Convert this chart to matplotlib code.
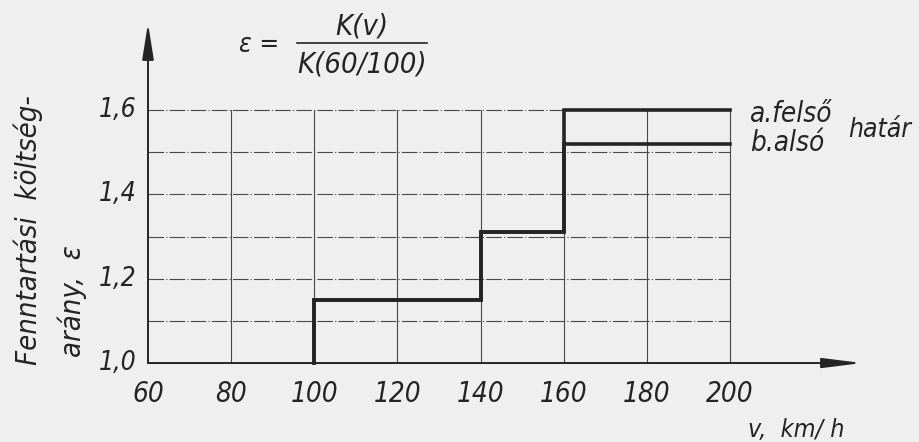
import matplotlib.pyplot as plt

# speed grid and the two step curves (upper "a" and lower "b" limit)
speeds = [60, 80, 100, 120, 140, 160, 180, 200]
step_x = [100, 100, 140, 160, 200]
eps_a = [1.0, 1.15, 1.31, 1.60, 1.60]
eps_b = [1.0, 1.15, 1.31, 1.52, 1.52]
y_ticks = [1.0, 1.2, 1.4, 1.6]
y_tick_labels = ['1,0', '1,2', '1,4', '1,6']
y_minor = [1.1, 1.3, 1.5]

INK = '#242424'
GRID = '#484848'
PAPER = '#efefef'
TXT = dict(style='italic', family=['DejaVu Sans'], stretch='condensed', color=INK)

fig = plt.figure(figsize=(9.2, 4.42), dpi=100, facecolor=PAPER)
ax = fig.add_axes([0, 0, 1, 1])
ax.set_facecolor(PAPER)
ax.set_xlim(24.4, 245.7)
ax.set_ylim(0.8127, 1.861)
ax.axis('off')

# grid: solid verticals, dash-dot horizontals
for v in speeds[1:]:
    ax.plot([v, v], [1.0, y_ticks[-1]], color=GRID, lw=0.8)
for e in y_ticks[1:] + y_minor:
    ax.plot([speeds[0], speeds[-1]], [e, e], color=GRID, lw=0.8,
            linestyle=(0, (14, 2, 1, 2)))

# axes with arrows
ax.annotate('', xy=(60, 1.806), xytext=(60, 1.0),
            arrowprops=dict(arrowstyle='-|>,head_length=2.2,head_width=0.35',
                            color=INK, lw=1.4, shrinkA=0, shrinkB=0))
ax.annotate('', xy=(231.8, 1.0), xytext=(60, 1.0),
            arrowprops=dict(arrowstyle='-|>,head_length=2.4,head_width=0.3',
                            color=INK, lw=1.4, shrinkA=0, shrinkB=0))

# step curves
ax.step(step_x, eps_a, where='post', color=INK, lw=2.6, solid_joinstyle='miter')
ax.step(step_x, eps_b, where='post', color=INK, lw=2.6, solid_joinstyle='miter')

# tick labels
for v in speeds:
    ax.text(v, 0.926, str(v), ha='center', va='center', fontsize=20, **TXT)
for e, lab in zip(y_ticks, y_tick_labels):
    ax.text(52.8, e, lab, ha='center', va='center', fontsize=19, **TXT)

# axis titles
ax.text(216, 0.841, 'v,  km/ h', ha='center', va='center', fontsize=18, **TXT)
ax.text(31.1, 0.995, 'Fenntartási  költség-', rotation=90, ha='center', va='bottom',
        fontsize=21, **TXT)
ax.text(41.7, 1.015, 'arány,  ε', rotation=90, ha='center', va='bottom',
        fontsize=21, **TXT)

# formula
ax.text(86.8, 1.754, 'ε =', ha='center', va='center', fontsize=19, **TXT)
ax.plot([95.8, 127.1], [1.759, 1.759], color=INK, lw=1.2)
ax.text(111.5, 1.797, 'K(v)', ha='center', va='center', fontsize=21, **TXT)
ax.text(111.5, 1.707, 'K(60/100)', ha='center', va='center', fontsize=21, **TXT)

# legend text
ax.text(204.8, 1.590, 'a.felső', ha='left', va='center', fontsize=20, **TXT)
ax.text(204.8, 1.522, 'b.alsó', ha='left', va='center', fontsize=20, **TXT)
ax.text(228.4, 1.553, 'határ', ha='left', va='center', fontsize=19, **TXT)

fig.savefig('out.png', dpi=100, facecolor=PAPER)
